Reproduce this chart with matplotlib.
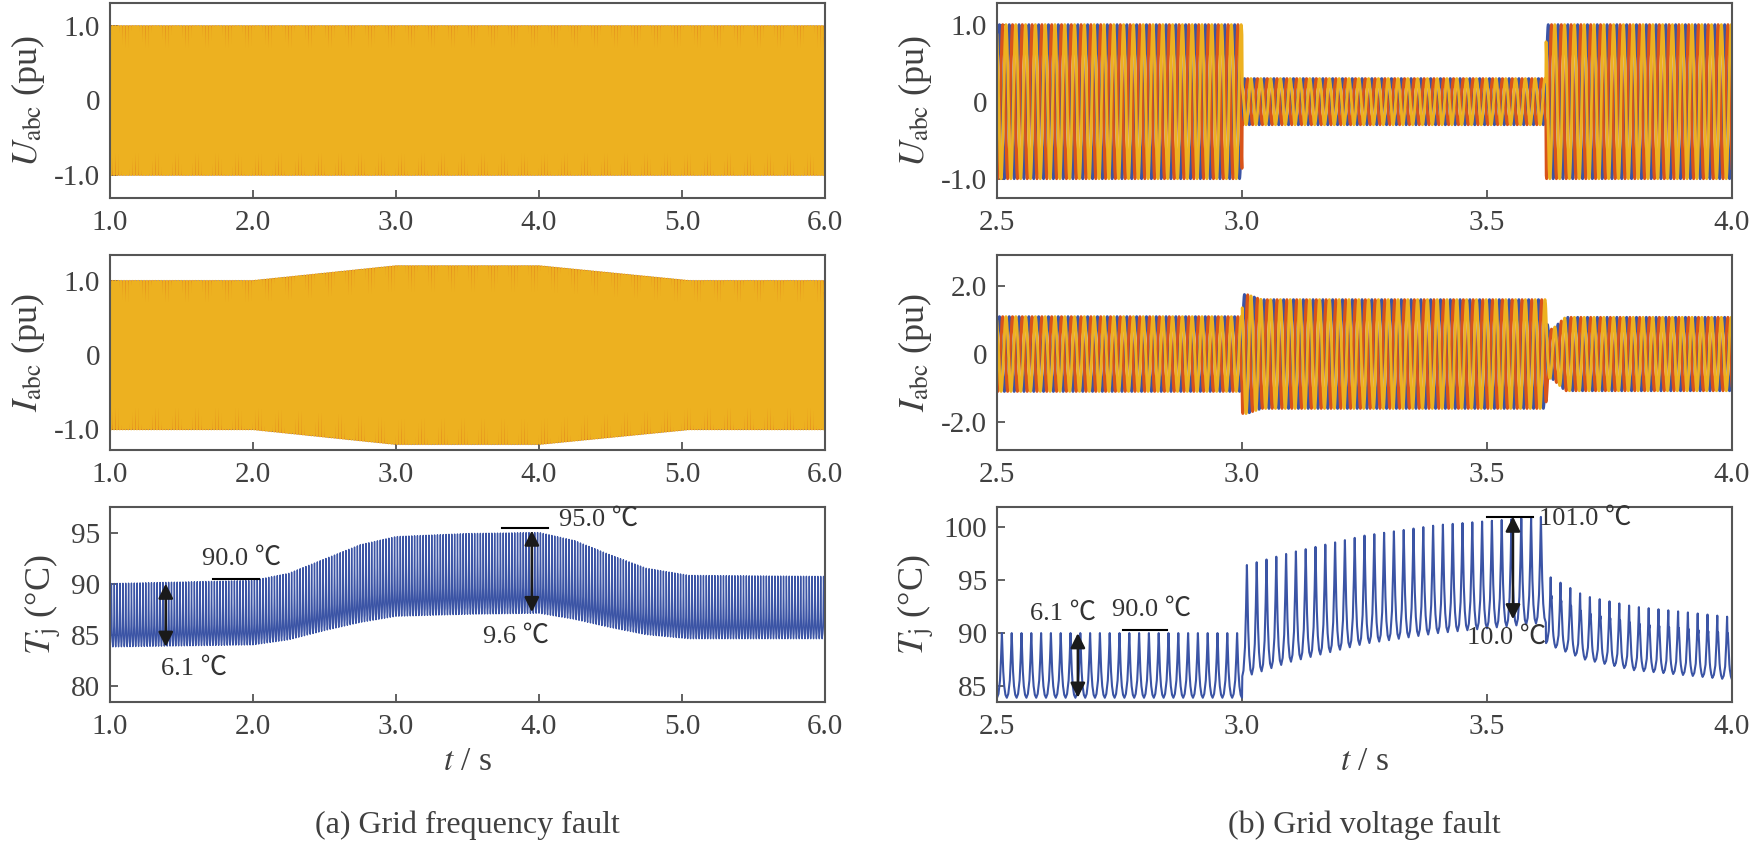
import numpy as np
import matplotlib
import matplotlib.pyplot as plt

matplotlib.use('Agg')

plt.rcParams['font.family'] = ['Liberation Serif', 'Noto Sans CJK SC', 'DejaVu Sans']
plt.rcParams['mathtext.fontset'] = 'stix'

C_A, C_B, C_C = '#3b54a5', '#d95319', '#edb120'
TXT = '#404040'
F_GRID = 50.0

# one ripple period of the junction temperature, normalised 0..1
ripple_phase = [0.0, 0.15, 0.3, 0.4, 0.47, 0.5, 0.55, 0.62, 0.72, 0.85, 1.0]
ripple_shape = [0.0, 0.06, 0.25, 0.55, 0.9, 1.0, 0.8, 0.45, 0.2, 0.05, 0.0]
# after the voltage recovers the peaks get a shoulder
post_phase = [0.0, 0.15, 0.3, 0.4, 0.47, 0.5, 0.54, 0.58, 0.62, 0.68, 0.76, 0.87, 1.0]
post_shape = [0.0, 0.05, 0.2, 0.5, 0.88, 1.0, 0.68, 0.74, 0.6, 0.36, 0.18, 0.06, 0.0]

# (a) grid frequency fault
a_xlim = [1.0, 6.0]
a_xticks = [1.0, 2.0, 3.0, 4.0, 5.0, 6.0]
a_u_time = [1.0, 6.0]
a_u_amp = [1.0, 1.0]
a_i_time = [1.0, 2.0, 3.0, 4.0, 5.05, 6.0]
a_i_amp = [1.0, 1.0, 1.2, 1.2, 1.0, 1.0]
a_tj_time = [1.0, 2.0, 2.25, 2.5, 2.75, 3.0, 3.5, 4.0, 4.25, 4.5, 4.75, 5.05, 6.0]
a_tj_peak = [90.0, 90.3, 91.0, 92.4, 93.8, 94.6, 94.9, 95.0, 94.2, 92.8, 91.5, 90.8, 90.7]
a_tj_trough = [83.8, 84.0, 84.5, 85.4, 86.2, 86.8, 87.0, 87.1, 86.5, 85.7, 85.0, 84.6, 84.6]

# (b) grid voltage fault
b_xlim = [2.5, 4.0]
b_xticks = [2.5, 3.0, 3.5, 4.0]
b_u_time = [2.5, 3.0, 3.0005, 3.62, 3.6205, 4.0]
b_u_amp = [1.0, 1.0, 0.3, 0.3, 1.0, 1.0]
b_i_time = [2.5, 3.0, 3.0005, 3.01, 3.04, 3.62, 3.625, 3.635, 3.66, 4.0]
b_i_amp = [1.1, 1.1, 1.75, 1.75, 1.6, 1.6, 0.7, 0.75, 1.08, 1.08]
b_tj_time = [2.5, 3.0, 3.0005, 3.1, 3.25, 3.4, 3.62, 3.6205, 3.7, 3.8, 4.0]
b_tj_peak = [90.0, 90.0, 96.3, 97.6, 99.2, 100.2, 101.0, 95.5, 93.5, 92.5, 91.5]
b_tj_trough = [83.9, 83.9, 85.8, 87.3, 89.0, 90.0, 91.0, 89.0, 87.5, 86.5, 85.6]
b_recover = 3.62


def three_phase(t, tb, amp):
    env = np.interp(t, tb, amp)
    return [env * np.sin(2 * np.pi * F_GRID * t - k * 2 * np.pi / 3) for k in range(3)]


def thermal(t, tb, peak, trough, t_post=None):
    ph = (t * F_GRID) % 1.0
    s = np.interp(ph, ripple_phase, ripple_shape)
    if t_post is not None:
        s = np.where(t >= t_post, np.interp(ph, post_phase, post_shape), s)
    lo = np.interp(t, tb, trough)
    hi = np.interp(t, tb, peak)
    return lo + (hi - lo) * s


def style(ax, xlim, xticks, ylim, yticks, ylabels, ylabel):
    ax.set_xlim(xlim)
    ax.set_xticks(xticks)
    ax.set_xticklabels(['{:.1f}'.format(v) for v in xticks])
    ax.set_ylim(ylim)
    ax.set_yticks(yticks)
    ax.set_yticklabels(ylabels)
    ax.set_ylabel(ylabel, fontsize=26, color=TXT, labelpad=5)
    ax.tick_params(direction='in', length=6, width=1.3, labelsize=21,
                   labelcolor=TXT, color='#555555')
    ax.tick_params(axis='x', pad=9)
    ax.tick_params(axis='y', pad=7)
    for sp in ax.spines.values():
        sp.set_color('#555555')
        sp.set_linewidth(1.5)


def arrow(ax, x, y0, y1):
    ax.annotate('', xy=(x, y1), xytext=(x, y0),
                arrowprops=dict(arrowstyle='<|-|>', color='#1a1a1a', lw=1.8,
                                mutation_scale=22, shrinkA=0, shrinkB=0))


def note(ax, x, y, s, ha='left'):
    ax.text(x, y, s, fontsize=19, color='#333333', ha=ha, va='center')


W, H = 1755, 848
fig = plt.figure(figsize=(W / 100, H / 100), dpi=100)


def box(x0, x1, top, h=195):
    return [x0 / W, 1 - (top + h) / H, (x1 - x0) / W, h / H]


cols = [(110, 825), (997, 1732)]
tops = [3, 255, 507]

UL = '$U_{\\rm abc}$ (pu)'
IL = '$I_{\\rm abc}$ (pu)'
TL = '$T_{\\rm j}$ (°C)'

# ---- column (a)
ta = np.linspace(a_xlim[0], a_xlim[1], 30001)
ax = fig.add_axes(box(*cols[0], tops[0]))
for y, c, w in zip(three_phase(ta, a_u_time, a_u_amp), [C_A, C_B, C_C], [1.0, 1.0, 1.6]):
    ax.plot(ta, y, color=c, lw=w)
style(ax, a_xlim, a_xticks, [-1.31, 1.31], [-1, 0, 1], ['-1.0', '0', '1.0'], UL)

ax = fig.add_axes(box(*cols[0], tops[1]))
for y, c, w in zip(three_phase(ta, a_i_time, a_i_amp), [C_A, C_B, C_C], [1.0, 1.0, 1.6]):
    ax.plot(ta, y, color=c, lw=w)
style(ax, a_xlim, a_xticks, [-1.28, 1.35], [-1, 0, 1], ['-1.0', '0', '1.0'], IL)

ax = fig.add_axes(box(*cols[0], tops[2]))
ax.plot(ta, thermal(ta, a_tj_time, a_tj_peak, a_tj_trough), color=C_A, lw=1.0)
style(ax, a_xlim, a_xticks, [78.4, 97.5], [80, 85, 90, 95],
      ['80', '85', '90', '95'], TL)
ax.set_xlabel('$t$ / s', fontsize=24, color=TXT, labelpad=4)
arrow(ax, 1.39, 90.0, 83.8)
note(ax, 1.36, 81.6, '6.1 ℃')
ax.plot([1.72, 2.04], [90.4, 90.4], color='k', lw=1.5)
note(ax, 1.64, 92.4, '90.0 ℃')
arrow(ax, 3.95, 95.2, 87.2)
note(ax, 3.84, 84.8, '9.6 ℃', ha='center')
ax.plot([3.74, 4.06], [95.4, 95.4], color='k', lw=1.5)
note(ax, 4.14, 96.2, '95.0 ℃')

# ---- column (b)
tb = np.linspace(b_xlim[0], b_xlim[1], 12001)
ax = fig.add_axes(box(*cols[1], tops[0]))
for y, c in zip(three_phase(tb, b_u_time, b_u_amp), [C_A, C_B, C_C]):
    ax.plot(tb, y, color=c, lw=2.0)
style(ax, b_xlim, b_xticks, [-1.25, 1.28], [-1, 0, 1], ['-1.0', '0', '1.0'], UL)

ax = fig.add_axes(box(*cols[1], tops[1]))
for y, c in zip(three_phase(tb, b_i_time, b_i_amp), [C_A, C_B, C_C]):
    ax.plot(tb, y, color=c, lw=2.0)
style(ax, b_xlim, b_xticks, [-2.82, 2.91], [-2, 0, 2], ['-2.0', '0', '2.0'], IL)

ax = fig.add_axes(box(*cols[1], tops[2]))
ax.plot(tb, thermal(tb, b_tj_time, b_tj_peak, b_tj_trough, b_recover),
        color=C_A, lw=1.5)
style(ax, b_xlim, b_xticks, [83.5, 101.9], [85, 90, 95, 100],
      ['85', '90', '95', '100'], TL)
ax.set_xlabel('$t$ / s', fontsize=24, color=TXT, labelpad=4)
note(ax, 2.567, 91.8, '6.1 ℃')
arrow(ax, 2.665, 90.0, 83.9)
ax.plot([2.758, 2.847], [90.3, 90.3], color='k', lw=1.5)
note(ax, 2.734, 92.2, '90.0 ℃')
ax.plot([3.50, 3.593], [101.0, 101.0], color='k', lw=1.5)
note(ax, 3.607, 100.8, '101.0 ℃')
arrow(ax, 3.553, 101.0, 91.3)
note(ax, 3.54, 89.6, '10.0 ℃', ha='center')

fig.text((cols[0][0] + cols[0][1]) / 2 / W, 1 - 825 / H, '(a) Grid frequency fault',
         ha='center', va='center', fontsize=23, color=TXT)
fig.text((cols[1][0] + cols[1][1]) / 2 / W, 1 - 825 / H, '(b) Grid voltage fault',
         ha='center', va='center', fontsize=23, color=TXT)

fig.savefig('out.png', dpi=100)
